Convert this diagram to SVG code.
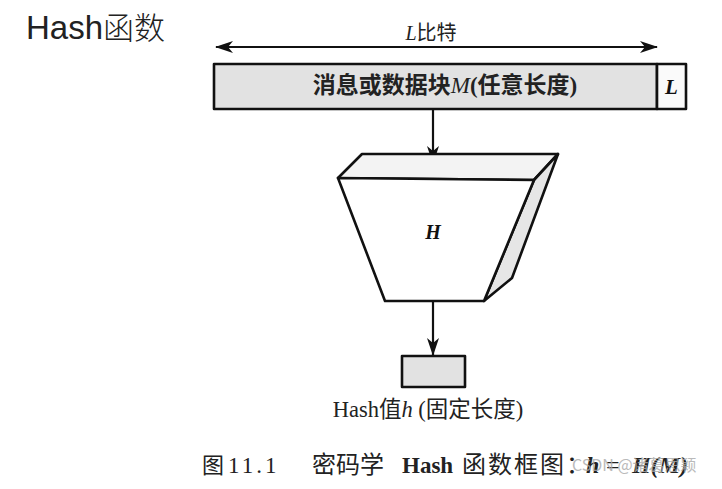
<svg xmlns="http://www.w3.org/2000/svg" width="722" height="489" viewBox="0 0 722 489">
<style>
.ln{stroke:#111;stroke-width:2.2;fill:none}
.sh{stroke:#111;stroke-width:2.6;stroke-linejoin:round}
.cjk{font-family:"Liberation Serif","Noto Sans CJK SC",serif;fill:#222}
</style>
<defs>
<marker id="ah" viewBox="0 0 18 12" refX="17" refY="6" markerWidth="18" markerHeight="12" orient="auto-start-reverse" markerUnits="userSpaceOnUse">
<path d="M0,0 L18,6 L0,12 L5,6 Z" fill="#111"/>
</marker>
</defs>
<rect width="722" height="489" fill="#fff"/>
<text x="26" y="39" font-family="Liberation Sans,Arial,sans-serif" font-size="33" fill="#222">Hash<tspan font-family="Noto Sans CJK SC,sans-serif" font-weight="300" font-size="31">函数</tspan></text>
<g id="connectors">
<line class="ln" x1="216" y1="47" x2="657" y2="47" marker-start="url(#ah)" marker-end="url(#ah)"/>
<line class="ln" x1="433" y1="109" x2="433" y2="163" marker-end="url(#ah)"/>
<line class="ln" x1="433" y1="301" x2="433" y2="355" marker-end="url(#ah)"/>
</g>
<text class="cjk" x="431" y="40" font-size="20" text-anchor="middle"><tspan font-style="italic">L</tspan>比特</text>
<g id="message">
<rect x="214" y="64" width="443" height="45" fill="#e2e2e2" class="sh"/>
<text class="cjk" x="445" y="93" font-size="23" font-weight="bold" text-anchor="middle">消息或数据块<tspan font-style="italic" font-weight="normal">M</tspan>(任意长度)</text>
</g>
<g id="length">
<rect x="657" y="64" width="29" height="45" fill="#fafafa" class="sh"/>
<text x="671.5" y="94" font-family="Liberation Serif,serif" font-size="21" font-weight="bold" font-style="italic" text-anchor="middle" fill="#111">L</text>
</g>
<g id="hashfunc">
<polygon class="sh" points="338,178 362,154 558,154 534,180" fill="#f3f3f3"/>
<polygon class="sh" points="534,180 558,154 512,278 484,301" fill="#e6e6e6"/>
<polygon class="sh" points="338,178 534,180 484,301 385,301" fill="#fff"/>
<text x="433" y="239" font-family="Liberation Serif,serif" font-size="20" font-weight="bold" font-style="italic" text-anchor="middle" fill="#111">H</text>
</g>
<g id="hashvalue">
<rect x="402" y="356" width="63" height="31" fill="#e2e2e2" class="sh"/>
<text class="cjk" x="428" y="417" font-size="22.5" text-anchor="middle">Hash值<tspan font-style="italic">h</tspan> (固定长度)</text>
</g>
<g class="cjk" font-size="24" fill="#333">
<text x="202" y="473" font-size="22">图</text>
<text x="228" y="473" font-size="23" letter-spacing="3">11.1</text>
<text x="312" y="473">密码学</text>
<text x="402" y="473" font-weight="bold" font-size="23">Hash</text>
<text x="462" y="473" letter-spacing="2">函数框图：</text>
<text x="586" y="473" font-style="italic" font-weight="bold">h</text>
<text x="606" y="473">=</text>
<text x="632" y="473" font-style="italic" font-weight="bold">H(M)</text>
</g>
<text x="572" y="471" font-family="Noto Sans CJK SC,sans-serif" font-size="16" fill="#aaa" opacity="0.8">CSDN @诸葛思颖</text>
</svg>
